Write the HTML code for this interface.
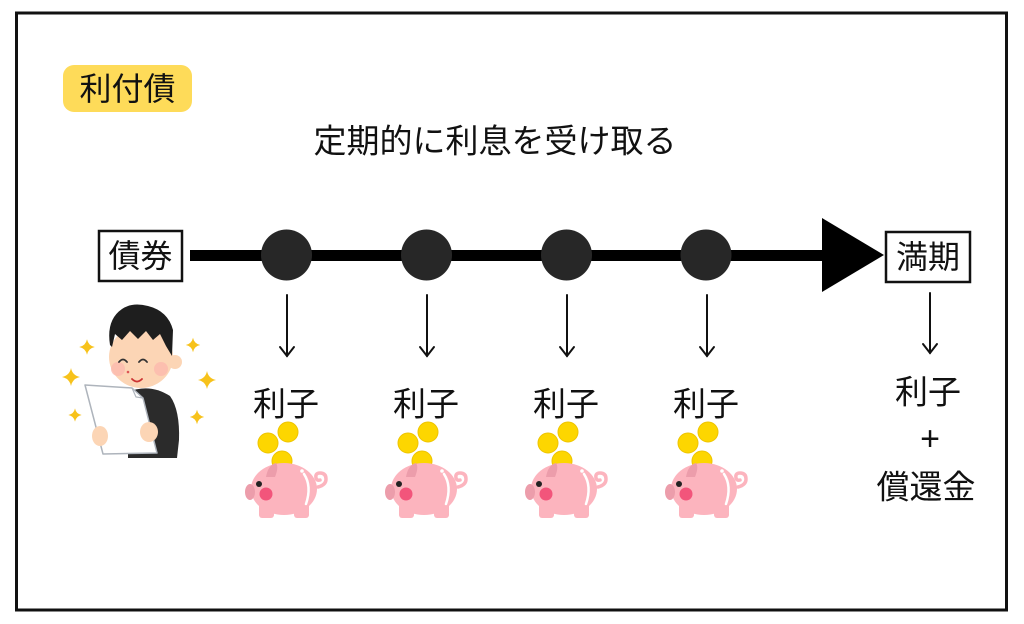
<!DOCTYPE html>
<html><head><meta charset="utf-8"><style>
html,body{margin:0;padding:0;background:#fff;width:1024px;height:624px;overflow:hidden}
svg{display:block}
text{font-family:"Liberation Sans","Noto Sans CJK JP",sans-serif;fill:#111}
</style></head><body>
<svg width="1024" height="624" viewBox="0 0 1024 624" xmlns="http://www.w3.org/2000/svg">
<defs>
<g id="pig">
  <circle cx="268" cy="443" r="10" fill="#FDD600" stroke="#EEC400" stroke-width="1"/>
  <circle cx="288" cy="432" r="10" fill="#FDD600" stroke="#EEC400" stroke-width="1"/>
  <circle cx="282" cy="461" r="10" fill="#FDD600" stroke="#EEC400" stroke-width="1"/>
  <path d="M318 487 q8 -2 8 -8 q0 -6 -6 -6 q-5 0 -4 5 q1 3 4 2" fill="none" stroke="#FCB4BE" stroke-width="3.5" stroke-linecap="round"/>
  <rect x="259" y="500" width="15" height="18" rx="3" fill="#FCB4BE"/>
  <rect x="294" y="500" width="15" height="18" rx="3" fill="#FCB4BE"/>
  <ellipse cx="284" cy="489" rx="33" ry="26" fill="#FCB4BE"/>
  <path d="M266 477 q2 -12 10 -14 q3 4 -1 14 z" fill="#EC9DAB"/>
  <ellipse cx="250" cy="492" rx="5" ry="8" fill="#EC9DAB"/>
  <circle cx="259" cy="484" r="3" fill="#222"/>
  <circle cx="266" cy="494" r="6.5" fill="#F2557B"/>
  <path d="M304 474 q8 12 2 30" fill="none" stroke="#fff" stroke-width="2.5" stroke-linecap="round"/>
  <circle cx="302" cy="471" r="1.8" fill="#fff"/>
</g>
<g id="star"><path d="M0 -6 Q1 -1 6 0 Q1 1 0 6 Q-1 1 -6 0 Q-1 -1 0 -6z" fill="#F7C21B"/></g>
</defs>

<rect x="16.5" y="13" width="990" height="597" fill="none" stroke="#111" stroke-width="3"/>

<rect x="63" y="65" width="129" height="47" rx="11" fill="#FEDB59"/>
<text x="127.5" y="89" font-size="32" text-anchor="middle" dominant-baseline="central">利付債</text>

<text x="495" y="141" font-size="33" text-anchor="middle" dominant-baseline="central">定期的に利息を受け取る</text>

<line x1="190" y1="255.5" x2="835" y2="255.5" stroke="#000" stroke-width="11"/>
<polygon points="822,218 884,255 822,292" fill="#000"/>
<circle cx="286.5" cy="255" r="25.5" fill="#272727"/>
<circle cx="426.5" cy="255" r="25.5" fill="#272727"/>
<circle cx="566.5" cy="255" r="25.5" fill="#272727"/>
<circle cx="706" cy="255" r="25.5" fill="#272727"/>

<rect x="99" y="231" width="83" height="50" fill="#fff" stroke="#111" stroke-width="2.5"/>
<text x="140.5" y="256" font-size="32" text-anchor="middle" dominant-baseline="central">債券</text>
<rect x="886" y="232" width="84" height="50" fill="#fff" stroke="#111" stroke-width="2.5"/>
<text x="928" y="257" font-size="32" text-anchor="middle" dominant-baseline="central">満期</text>

<g stroke="#111" stroke-width="2" fill="none" stroke-linecap="round">
  <line x1="287" y1="295" x2="287" y2="356"/><polyline points="280,347 287,356 294,347"/>
  <line x1="427" y1="295" x2="427" y2="356"/><polyline points="420,347 427,356 434,347"/>
  <line x1="567" y1="295" x2="567" y2="356"/><polyline points="560,347 567,356 574,347"/>
  <line x1="707" y1="295" x2="707" y2="356"/><polyline points="700,347 707,356 714,347"/>
  <line x1="930" y1="293" x2="930" y2="353"/><polyline points="923,344 930,353 937,344"/>
</g>

<g font-size="33" text-anchor="middle" dominant-baseline="central">
<text x="286" y="404">利子</text>
<text x="426" y="404">利子</text>
<text x="566" y="404">利子</text>
<text x="706" y="404">利子</text>
<text x="928" y="392">利子</text>
<text x="930" y="439" font-size="34">+</text>
<text x="926" y="487">償還金</text>
</g>

<use href="#pig"/>
<use href="#pig" transform="translate(140,0)"/>
<use href="#pig" transform="translate(280,0)"/>
<use href="#pig" transform="translate(420,0)"/>

<!-- person -->
<g>
  <use href="#star" transform="translate(87,347) scale(1.3)"/>
  <use href="#star" transform="translate(71,377) scale(1.5)"/>
  <use href="#star" transform="translate(75,415) scale(1.1)"/>
  <use href="#star" transform="translate(193,345) scale(1.2)"/>
  <use href="#star" transform="translate(207,380) scale(1.5)"/>
  <use href="#star" transform="translate(197,417) scale(1.2)"/>
  <!-- body -->
  <path d="M128 392 Q150 383 170 396 Q180 410 179 440 L177 458 L128 458 Z" fill="#2B2B2B"/>
  <!-- face -->
  <ellipse cx="141" cy="357" rx="32" ry="31" fill="#FCD5B5"/>
  <circle cx="175" cy="362" r="7" fill="#FCD5B5"/>
  <circle cx="118" cy="369" r="7" fill="#FBB9AE" opacity="0.8"/>
  <circle cx="161" cy="369" r="7" fill="#FBB9AE" opacity="0.8"/>
  <!-- hair -->
  <path d="M110 345 Q106 320 122 309 Q132 302 148 306 Q168 311 173 330 L172 356 L166 346 L160 334 L153 340 L146 331 L138 339 L130 331 L122 340 L115 334 L112 347 Z" fill="#1E1E1E"/>
  <path d="M119 362 q4 -5 8 0 M139 362 q4 -5 8 0" stroke="#333" stroke-width="1.8" fill="none" stroke-linecap="round"/>
  <circle cx="128" cy="372" r="1.3" fill="#D55"/>
  <path d="M132 379 q5 5 10 0" stroke="#C33" stroke-width="1.8" fill="none" stroke-linecap="round"/>
  <!-- paper -->
  <path d="M85 385 L132 388 L143 398 L157 453 L103 454 Z" fill="#fff" stroke="#AEB4BC" stroke-width="1.5" stroke-linejoin="round"/>
  <path d="M132 388 L136 397 L143 398" fill="none" stroke="#AEB4BC" stroke-width="1.2"/>
  <!-- hands -->
  <ellipse cx="100" cy="436" rx="8" ry="10" fill="#FCD5B5"/>
  <ellipse cx="149" cy="432" rx="9" ry="10" fill="#FCD5B5"/>
</g>
</svg>
</body></html>
